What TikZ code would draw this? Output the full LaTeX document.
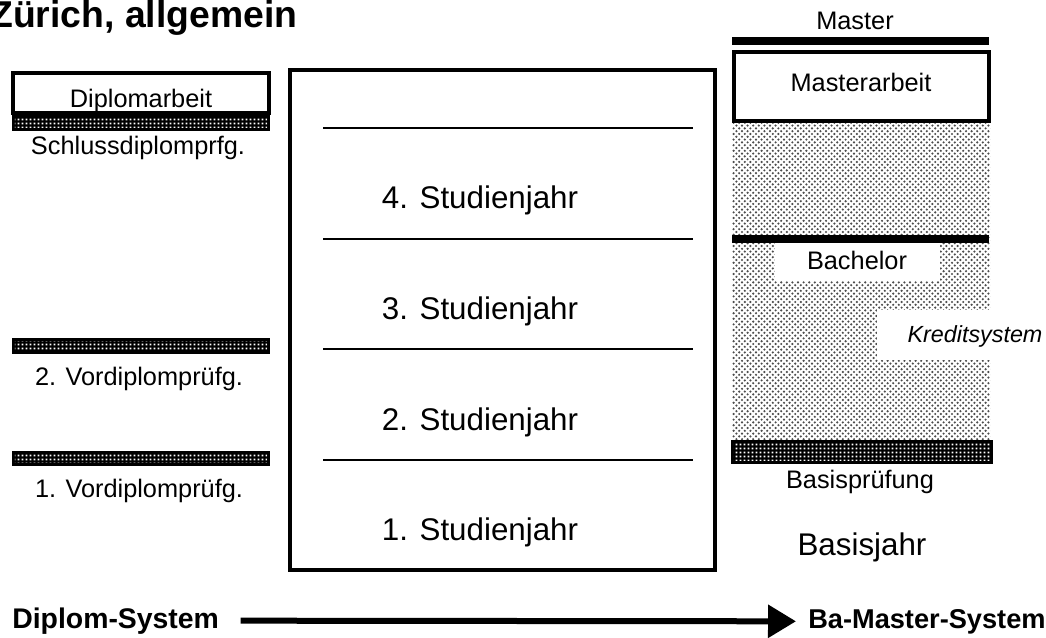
\documentclass[tikz,border=0pt]{standalone}
\usepackage{fontspec}
\setmainfont{Liberation Sans}
\usetikzlibrary{patterns,arrows.meta}

% Punktraster fuer das Kreditsystem
\pgfdeclarepatternformonly{kreditpunkte}{\pgfqpoint{-1pt}{-1pt}}{\pgfqpoint{6pt}{6pt}}{\pgfqpoint{4.2pt}{4.2pt}}{%
  \pgfpathcircle{\pgfqpoint{0pt}{0pt}}{0.9pt}%
  \pgfpathcircle{\pgfqpoint{2.1pt}{2.1pt}}{0.9pt}%
  \pgfusepath{fill}}
% Raster der Pruefungsbalken
\pgfdeclarepatternformonly{pruefraster}{\pgfqpoint{0pt}{0pt}}{\pgfqpoint{2.6pt}{2.6pt}}{\pgfqpoint{2.6pt}{2.6pt}}{%
  \pgfpathrectangle{\pgfqpoint{0.6pt}{0.6pt}}{\pgfqpoint{1.4pt}{1.4pt}}%
  \pgfusepath{fill}}

\begin{document}
\begin{tikzpicture}[x=0.75pt,y=-0.75pt]
\tikzset{kasten/.style={draw, line width=2.8pt},
  jahr/.style={anchor=base, inner sep=0, font=\fontsize{23.5}{27}\selectfont},
  etikett/.style={anchor=base, inner sep=0, font=\fontsize{19}{22}\selectfont},
  fett/.style={anchor=base west, inner sep=0, font=\bfseries\fontsize{21.3}{24}\selectfont},
  pruefbalken/.style={fill=black, inner sep=0, minimum width=193.5pt, minimum height=11.5pt,
    path picture={\fill[pattern=pruefraster, pattern color=white]
      ([xshift=2.2pt,yshift=-2.4pt]path picture bounding box.north west) rectangle
      ([xshift=-2.2pt,yshift=2.4pt]path picture bounding box.south east);}}}
\useasboundingbox (0,0) rectangle (1046,638);
\clip (0,0) rectangle (1046,638);

% Titel (angeschnitten)
\node[fett, font=\bfseries\fontsize{28}{30}\selectfont] (titel) at (-10,28) {Zürich, allgemein};

% Diplom-System links
\draw[kasten] (13,73) rectangle (269,113);
\node[etikett] (diplomarbeit) at (141,108) {Diplomarbeit};
\node[pruefbalken] (schluss) at (141,123) {};
\node[etikett] (schlusstext) at (138,155) {Schlussdiplomprfg.};
\node[pruefbalken] (vordip2) at (141,346) {};
\node[etikett] (vordip2text) at (139,385) {2. Vordiplomprüfg.};
\node[pruefbalken] (vordip1) at (141,458.5) {};
\node[etikett] (vordip1text) at (139,497) {1. Vordiplomprüfg.};

% Studienjahre
\draw[kasten, line width=3pt] (290,70) rectangle (715,570);
\draw[line width=1.1pt] (323,128) -- (693,128);
\draw[line width=1.1pt] (323,239) -- (693,239);
\draw[line width=1.1pt] (323,349) -- (693,349);
\draw[line width=1.1pt] (323,460) -- (693,460);
\node[jahr] (jahr4) at (480,209) {4. Studienjahr};
\node[jahr] (jahr3) at (480,319) {3. Studienjahr};
\node[jahr] (jahr2) at (480,430) {2. Studienjahr};
\node[jahr] (jahr1) at (480,540) {1. Studienjahr};

% Ba-Master-System rechts
\fill[pattern=kreditpunkte, pattern color=black!70] (732,122) rectangle (990,442);
\fill[white] (775,243) rectangle (940,281);
\fill[white] (877,310) rectangle (1046,360);
\node[etikett] (master) at (855,30) {Master};
\draw[line width=5.6pt] (732,41) -- (989,41);
\draw[kasten] (734,52) rectangle (989,121);
\node[etikett] (masterarbeit) at (861,92) {Masterarbeit};
\draw[line width=5.6pt] (732,239) -- (989,239);
\node[etikett] (bachelor) at (857,269) {Bachelor};
\node[etikett, font=\itshape\fontsize{17.5}{21}\selectfont] (kredit) at (975,342) {Kreditsystem};
\node[pruefbalken, minimum width=196.5pt, minimum height=18pt] (basis) at (862,452) {};
\node[etikett] (basistext) at (860,488) {Basisprüfung};
\node[jahr] (basisjahr) at (862,555) {Basisjahr};

% Uebergang
\node[fett] (diplomsys) at (12,628) {Diplom-System};
\node[fett, font=\bfseries\fontsize{20.4}{24}\selectfont] (bamaster) at (808,628) {Ba-Master-System};
\draw[line width=4.5pt, -{Triangle[length=21pt,width=24pt]}, shorten <=16pt, shorten >=9pt]
  (diplomsys.east) -- (bamaster.west);
\end{tikzpicture}
\end{document}
